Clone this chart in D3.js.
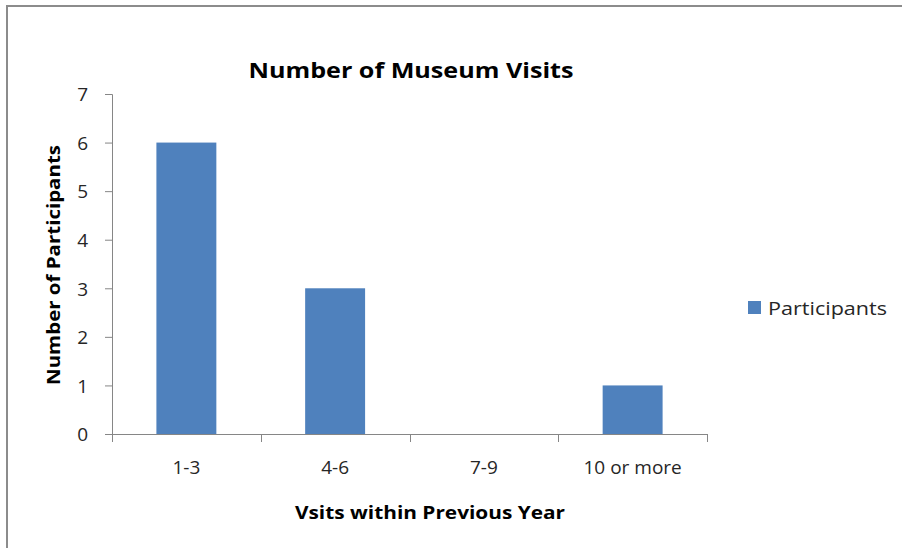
<!DOCTYPE html>
<html>
<head>
<meta charset="utf-8">
<script src="https://cdn.jsdelivr.net/npm/d3@7"></script>
<style>
  html, body { margin: 0; padding: 0; background: #fff; overflow: hidden; }
  svg { display: block; }
  text { font-family: "Open Sans", Lato, sans-serif; }
</style>
</head>
<body>
<svg id="chart" width="902" height="548"></svg>
<script>
// Museum visits survey: participants per visit-frequency band
const categories = ["1-3", "4-6", "7-9", "10 or more"];
const participants = [6, 3, 0, 1];
const yTicks = [0, 1, 2, 3, 4, 5, 6, 7];
const seriesName = "Participants";
const chartTitle = "Number of Museum Visits";
const xTitle = "Vsits within Previous Year";
const yTitle = "Number of Participants";

const W = 902, H = 548;
const plot = { left: 112, right: 707, top: 94, bottom: 434 };
const barColor = "#4F81BD";
const axisColor = "#868686";

const svg = d3.select("#chart");

// outer frame: top and left edges only, the rest lies beyond the view
svg.append("path")
  .attr("d", `M7,${H}V6H${W}`)
  .attr("fill", "none")
  .attr("stroke", "#8c8c8c")
  .attr("stroke-width", 2);

const x = d3.scaleBand()
  .domain(categories)
  .range([plot.left, plot.right])
  .paddingInner(0.597)
  .paddingOuter(0.2985);

const xBand = d3.scaleBand()
  .domain(categories)
  .range([plot.left, plot.right]);

const y = d3.scaleLinear()
  .domain([0, 7])
  .range([plot.bottom, plot.top]);

// bars
svg.append("g")
  .selectAll("rect")
  .data(categories.map((c, i) => ({ c, v: participants[i] })))
  .join("rect")
  .attr("x", d => x(d.c))
  .attr("width", x.bandwidth())
  .attr("y", d => y(d.v))
  .attr("height", d => y(0) - y(d.v))
  .attr("fill", barColor);

// y axis
const yAxis = svg.append("g")
  .attr("transform", `translate(${plot.left},0)`)
  .call(d3.axisLeft(y).tickValues(yTicks).tickSize(7).tickPadding(17).tickFormat(d3.format("d")));
yAxis.select(".domain").attr("stroke", axisColor).attr("d", `M-7,${plot.top + 0.5}H0.5V${plot.bottom}`);
yAxis.selectAll(".tick line").attr("stroke", axisColor);
yAxis.selectAll(".tick text")
  .attr("fill", "#262626")
  .style("font-size", "19px")
  .attr("dy", "0.36em");

// x axis with boundary ticks between categories
const xAxis = svg.append("g")
  .attr("transform", `translate(0,${plot.bottom})`);
xAxis.append("path")
  .attr("d", `M${plot.left},0.5H${plot.right}`)
  .attr("stroke", axisColor)
  .attr("fill", "none");
const bounds = categories.map(c => xBand(c)).concat([plot.right]);
xAxis.selectAll("line.bound")
  .data(bounds)
  .join("line")
  .attr("class", "bound")
  .attr("x1", d => Math.round(d) + 0.5).attr("x2", d => Math.round(d) + 0.5)
  .attr("y1", 0).attr("y2", 8)
  .attr("stroke", axisColor);
xAxis.selectAll("text.cat")
  .data(categories)
  .join("text")
  .attr("class", "cat")
  .attr("x", d => xBand(d) + xBand.bandwidth() / 2)
  .attr("y", 40)
  .attr("text-anchor", "middle")
  .attr("fill", "#262626")
  .style("font-size", "19px")
  .text(d => d);

// title
svg.append("text")
  .attr("x", 411).attr("y", 78)
  .attr("text-anchor", "middle")
  .style("font-size", "21px")
  .style("font-weight", "bold")
  .attr("fill", "#000")
  .attr("textLength", 325)
  .attr("lengthAdjust", "spacingAndGlyphs")
  .text(chartTitle);

// x axis title
svg.append("text")
  .attr("x", 430).attr("y", 519)
  .attr("text-anchor", "middle")
  .style("font-size", "18px")
  .style("font-weight", "bold")
  .attr("fill", "#000")
  .attr("textLength", 270)
  .attr("lengthAdjust", "spacingAndGlyphs")
  .text(xTitle);

// y axis title
svg.append("text")
  .attr("transform", "translate(60,265) rotate(-90)")
  .attr("text-anchor", "middle")
  .style("font-size", "18px")
  .style("font-weight", "bold")
  .attr("fill", "#000")
  .attr("textLength", 240)
  .attr("lengthAdjust", "spacingAndGlyphs")
  .text(yTitle);

// legend
const legend = svg.append("g").attr("transform", "translate(748,301)");
legend.append("rect")
  .attr("width", 13).attr("height", 13)
  .attr("fill", barColor);
legend.append("text")
  .attr("x", 20).attr("y", 14)
  .style("font-size", "19px")
  .attr("fill", "#262626")
  .attr("textLength", 119)
  .attr("lengthAdjust", "spacingAndGlyphs")
  .text(seriesName);
</script>
</body>
</html>
